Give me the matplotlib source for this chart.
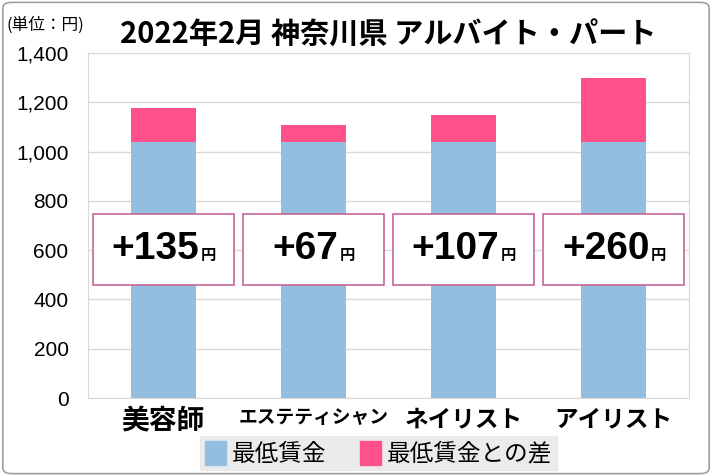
import matplotlib
matplotlib.use("Agg")
import matplotlib.pyplot as plt
import matplotlib.transforms as mtransforms
from matplotlib.patches import Rectangle, FancyBboxPatch
import numpy as np

plt.rcParams['font.family'] = ['Liberation Sans', 'Noto Sans CJK JP', 'DejaVu Sans']

categories = ['美容師', 'エステティシャン', 'ネイリスト', 'アイリスト']
min_wage = [1040, 1040, 1040, 1040]
diff = [135, 67, 107, 260]
diff_labels = ['+135', '+67', '+107', '+260']
yticks = [0, 200, 400, 600, 800, 1000, 1200, 1400]
ytick_labels = ['0', '200', '400', '600', '800', '1,000', '1,200', '1,400']
title = '2022年2月 神奈川県 アルバイト・パート'
unit_label = '(単位：円)'
legend_labels = ['最低賃金', '最低賃金との差']

blue = '#93bee0'
pink = '#ff528a'
box_edge = '#c2679a'
grid_c = '#d9d9d9'

fig = plt.figure(figsize=(7.12, 4.76), dpi=100)
# outer border
fig.patches.append(FancyBboxPatch((0.004, 0.005), 0.992, 0.99, boxstyle='round,pad=0,rounding_size=0.012',
                                  transform=fig.transFigure, fill=False, edgecolor='#a0a0a0', linewidth=1.2))

ax = fig.add_axes([88/712, 1-398/476, (689-88)/712, (398-53)/476])
x = np.arange(len(categories))
ax.bar(x, min_wage, width=0.433, color=blue, zorder=2)
ax.bar(x, diff, width=0.433, bottom=min_wage, color=pink, zorder=2)
ax.set_xlim(-0.5, len(categories) - 0.5)
ax.set_ylim(0, 1400)
ax.set_yticks(yticks)
ax.set_yticklabels(ytick_labels, fontsize=15)
ax.yaxis.grid(True, color=grid_c, linewidth=1, zorder=0)
ax.set_axisbelow(True)
for s in ax.spines.values():
    s.set_color(grid_c)
ax.tick_params(axis='y', length=0, pad=14)
ax.tick_params(axis='x', length=0, pad=7)
ax.set_xticks(x)
ax.set_xticklabels(categories, fontweight='bold', family=['Noto Sans CJK JP'])
label_sizes = [20, 13.5, 17, 17]
for i, lab in enumerate(ax.get_xticklabels()):
    lab.set_fontsize(label_sizes[i])

# value boxes
for i, lab in enumerate(diff_labels):
    ax.add_patch(Rectangle((i - 0.47, 460), 0.94, 287, facecolor='white', edgecolor=box_edge,
                           linewidth=1.2, zorder=3))
    off = mtransforms.ScaledTranslation(-8/100, 0, fig.dpi_scale_trans)
    t = ax.text(i, 603, lab, ha='center', va='center', fontsize=28, fontweight='bold',
                transform=ax.transData + off, zorder=4)
    ax.annotate('円', xy=(1, 0.12), xycoords=t, xytext=(1, 0), textcoords='offset points',
                ha='left', va='bottom', fontsize=11, fontweight='bold',
                family=['Noto Sans CJK JP'], zorder=4)

fig.text(0.545, 0.928, title, ha='center', va='center', fontsize=21, fontweight='bold',
         family=['Noto Sans CJK JP'])
fig.text(0.064, 0.947, unit_label, ha='center', va='center', fontsize=12,
         family=['Noto Sans CJK JP'])

handles = [Rectangle((0, 0), 1, 1, color=blue), Rectangle((0, 0), 1, 1, color=pink)]
leg = fig.legend(handles, legend_labels, loc='center', bbox_to_anchor=(0.532, 0.048), ncol=2,
                 frameon=True, fancybox=False, handlelength=0.9, handleheight=1.2,
                 handletextpad=0.25, columnspacing=1.4, borderpad=0.2, borderaxespad=0.2,
                 prop={'family': ['Noto Sans CJK JP'], 'size': 17})
leg.get_frame().set_facecolor('#e6e6e6')
leg.get_frame().set_edgecolor('#e6e6e6')

fig.savefig('out.png', dpi=100)
